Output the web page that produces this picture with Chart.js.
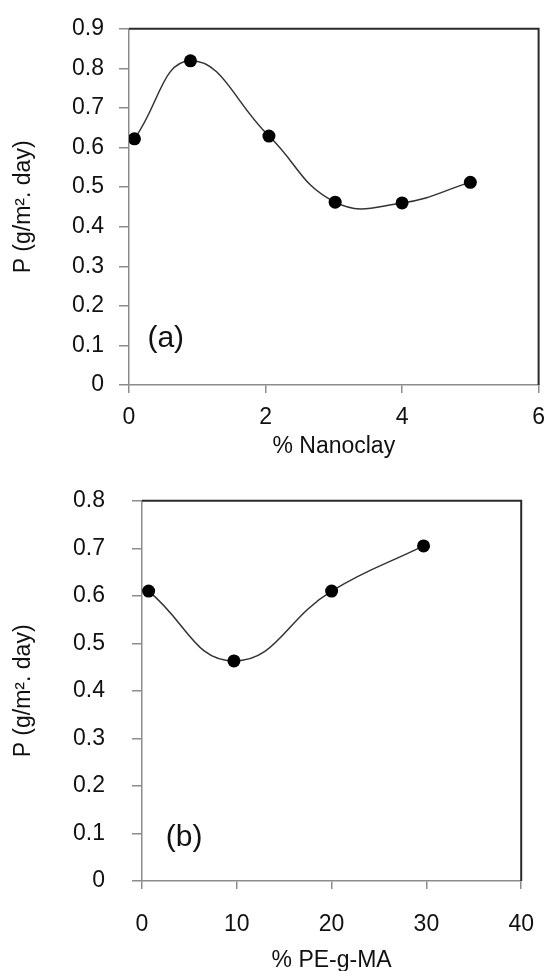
<!DOCTYPE html>
<html>
<head>
  <script src="https://cdn.jsdelivr.net/npm/chart.js"></script>
  <style>
    html, body { margin: 0; padding: 0; background: #fff; overflow: hidden; }
    .box { position: absolute; left: 0; width: 556px; }
    #boxA { top: 0; height: 460px; }
    #boxB { top: 460px; height: 514px; }
  </style>
</head>
<body>
  <div class="box" id="boxA"><canvas id="chartA"></canvas></div>
  <div class="box" id="boxB"><canvas id="chartB"></canvas></div>

  <script>
    // panel (a): permeability vs nanoclay content
    var nanoclayX = [0.08, 0.9, 2.05, 3.02, 4.0, 5.0];
    var nanoclayP = [0.622, 0.819, 0.629, 0.462, 0.460, 0.512];

    // panel (b): permeability vs compatibilizer content
    var pegmaX = [0.7, 9.7, 20, 29.7];
    var pegmaP = [0.61, 0.463, 0.61, 0.705];

    var yTitle = 'P (g/m\u00b2. day)';
    var xTitles = ['% Nanoclay', '% PE-g-MA'];
    var panelLabels = ['(a)', '(b)'];

    var FONT = '"Liberation Sans", Arial, sans-serif';
    var FS = 23;

    function toPoints(xs, ys) {
      var pts = [];
      for (var i = 0; i < xs.length; i++) pts.push({ x: xs[i], y: ys[i] });
      return pts;
    }

    // dark top/right frame + panel letter
    var framePlugin = {
      id: 'frame',
      afterDraw: function(chart, args, opts) {
        var ctx = chart.ctx, a = chart.chartArea;
        ctx.save();
        ctx.strokeStyle = '#2a2a2a';
        ctx.lineWidth = 2;
        ctx.beginPath();
        ctx.moveTo(a.left, a.top);
        ctx.lineTo(a.right, a.top);
        ctx.lineTo(a.right, a.bottom);
        ctx.stroke();

        var px = chart.scales.x.getPixelForValue(opts.at[0]);
        var py = chart.scales.y.getPixelForValue(opts.at[1]);
        ctx.fillStyle = '#111';
        ctx.font = opts.size + 'px ' + FONT;
        ctx.textAlign = 'left';
        ctx.textBaseline = 'middle';
        ctx.fillText(opts.text, px, py);
        ctx.restore();
      }
    };

    function makeChart(id, pts, cfg) {
      return new Chart(document.getElementById(id), {
        type: 'line',
        data: {
          datasets: [{
            data: pts,
            borderColor: '#333',
            borderWidth: 1.5,
            tension: 0.45,
            pointRadius: 6.5,
            pointBackgroundColor: '#000',
            pointBorderColor: '#000',
            pointBorderWidth: 0,
            fill: false
          }]
        },
        options: {
          responsive: true,
          maintainAspectRatio: false,
          animation: false,
          layout: { padding: cfg.padding },
          plugins: {
            legend: { display: false },
            tooltip: { enabled: false },
            frame: { text: cfg.label, at: cfg.labelAt, size: 30 }
          },
          scales: {
            x: {
              type: 'linear',
              min: cfg.xMin, max: cfg.xMax,
              afterFit: function(s) { s.height = cfg.xHeight; },
              ticks: { stepSize: cfg.xStep, padding: cfg.xPad, color: '#111', font: { family: FONT, size: FS } },
              grid: { drawOnChartArea: false, drawTicks: true, tickLength: 8, color: '#8c8c8c', lineWidth: 1.5 },
              border: { color: '#8c8c8c', width: 1.5 },
              title: { display: true, text: cfg.xTitle, color: '#111', padding: 0, font: { family: FONT, size: FS } }
            },
            y: {
              min: 0, max: cfg.yMax,
              afterFit: function(s) { s.width = cfg.yWidth; },
              ticks: { stepSize: 0.1, padding: cfg.yPad, color: '#111', font: { family: FONT, size: FS } },
              grid: { drawOnChartArea: false, drawTicks: true, tickLength: 10, color: '#8c8c8c', lineWidth: 1.5 },
              border: { color: '#8c8c8c', width: 1.5 },
              title: { display: true, text: yTitle, color: '#111', padding: { top: 10, bottom: 0 }, font: { family: FONT, size: FS } }
            }
          }
        },
        plugins: [framePlugin]
      });
    }

    makeChart('chartA', toPoints(nanoclayX, nanoclayP), {
      padding: { top: 19, right: 11, left: 0, bottom: 0 },
      xMin: 0, xMax: 6, xStep: 2, xHeight: 75, xPad: 11, xTitle: xTitles[0],
      yMax: 0.9, yWidth: 129, yPad: 15,
      label: panelLabels[0], labelAt: [0.27, 0.116]
    });

    makeChart('chartB', toPoints(pegmaX, pegmaP), {
      padding: { top: 27, right: 13, left: 0, bottom: 0 },
      xMin: 0, xMax: 40, xStep: 10, xHeight: 93, xPad: 22, xTitle: xTitles[1],
      yMax: 0.8, yWidth: 142, yPad: 27,
      label: panelLabels[1], labelAt: [2.5, 0.091]
    });
  </script>
</body>
</html>
